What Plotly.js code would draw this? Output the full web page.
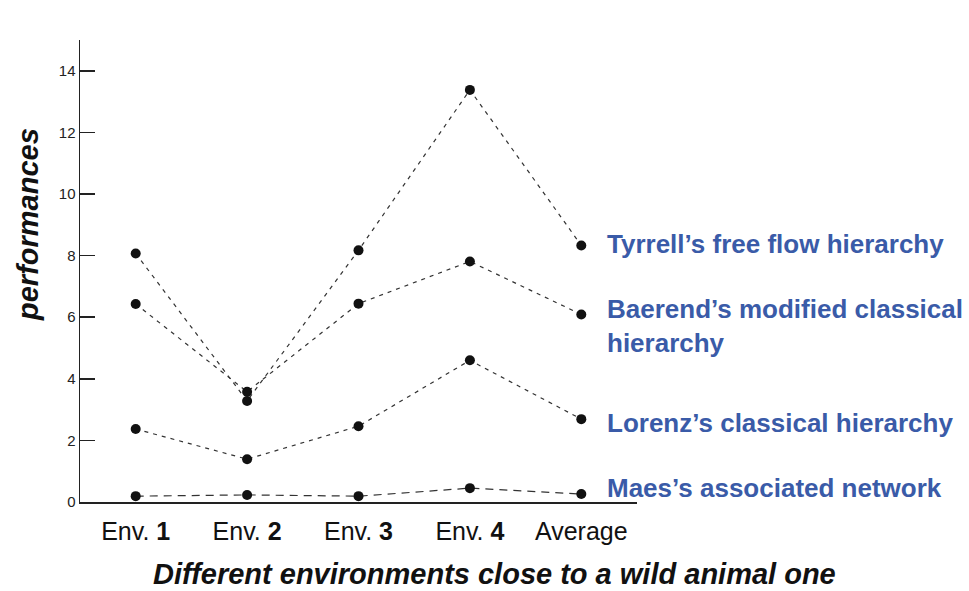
<!DOCTYPE html>
<html>
<head>
<meta charset="utf-8">
<script src="https://cdn.plot.ly/plotly-3.0.1.min.js"></script>
<style>html,body{margin:0;padding:0;background:#fff;}#chart{width:969px;height:591px;}</style>
</head>
<body>
<div id="chart"></div>
<script>
const categories = ["Env. 1", "Env. 2", "Env. 3", "Env. 4", "Average"];
const tickLabels = ["Env. <b>1</b>", "Env. <b>2</b>", "Env. <b>3</b>", "Env. <b>4</b>", "Average"];
const seriesNames = ["Tyrrell’s free flow hierarchy", "Baerend’s modified classical<br>hierarchy", "Lorenz’s classical hierarchy", "Maes’s associated network"];
const tyrrell = [8.07, 3.28, 8.17, 13.38, 8.33];
const baerend = [6.43, 3.58, 6.44, 7.81, 6.09];
const lorenz = [2.37, 1.39, 2.46, 4.60, 2.69];
const maes = [0.19, 0.23, 0.19, 0.45, 0.26];
const yTicks = [0, 2, 4, 6, 8, 10, 12, 14];
const xTitle = "Different environments close to a wild animal one";
const yTitle = "performances";

const allSeries = [tyrrell, baerend, lorenz, maes];
const dashes = ["4px,5px", "4px,5px", "4px,5px", "8px,6px"];
const labelY = [8.38, 5.71, 2.56, 0.45];

const traces = allSeries.map((vals, i) => ({
  type: "scatter",
  mode: "lines+markers",
  x: categories,
  y: vals,
  name: seriesNames[i],
  line: {color: "#333", width: 1.2, dash: dashes[i]},
  marker: {color: "#111", size: 10},
  cliponaxis: false
}));

const FONT = "Liberation Sans, Arial, sans-serif";
const annotations = seriesNames.map((n, i) => ({
  text: n,
  xref: "paper", yref: "y",
  x: 0.943, y: labelY[i],
  xanchor: "left", yanchor: "middle", align: "left",
  showarrow: false,
  font: {family: FONT, size: 26, color: "#3a5ba8", weight: "bold"}
}));
annotations.push({
  text: "<b><i>" + xTitle + "</i></b>",
  xref: "paper", yref: "paper", x: 0.745, y: -0.155,
  xanchor: "center", yanchor: "middle", showarrow: false,
  font: {family: FONT, size: 29, color: "#111"}
});
annotations.push({
  text: "<b><i>" + yTitle + "</i></b>",
  xref: "paper", yref: "paper", x: -0.093, y: 0.6,
  xanchor: "center", yanchor: "middle", showarrow: false, textangle: -90,
  font: {family: FONT, size: 29, color: "#111"}
});

const layout = {
  width: 969, height: 591,
  margin: {l: 80, r: 332, t: 40, b: 89},
  paper_bgcolor: "#ffffff",
  plot_bgcolor: "#ffffff",
  showlegend: false,
  font: {family: FONT, color: "#222"},
  xaxis: {
    type: "category",
    range: [-0.5, 4.5],
    tickvals: categories,
    ticktext: tickLabels,
    showgrid: false, zeroline: false,
    showline: true, linecolor: "#222", linewidth: 1.5,
    ticks: "",
    ticklabelstandoff: 6,
    tickfont: {size: 25, color: "#111"}
  },
  yaxis: {
    range: [0, 15],
    tickvals: yTicks,
    showgrid: false, zeroline: false,
    showline: true, linecolor: "#222", linewidth: 1.5,
    ticks: "inside", ticklen: 15, tickwidth: 1.5, tickcolor: "#222",
    tickfont: {size: 15, color: "#222"}
  },
  annotations: annotations
};

Plotly.newPlot("chart", traces, layout, {displayModeBar: false, staticPlot: true});
</script>
</body>
</html>
